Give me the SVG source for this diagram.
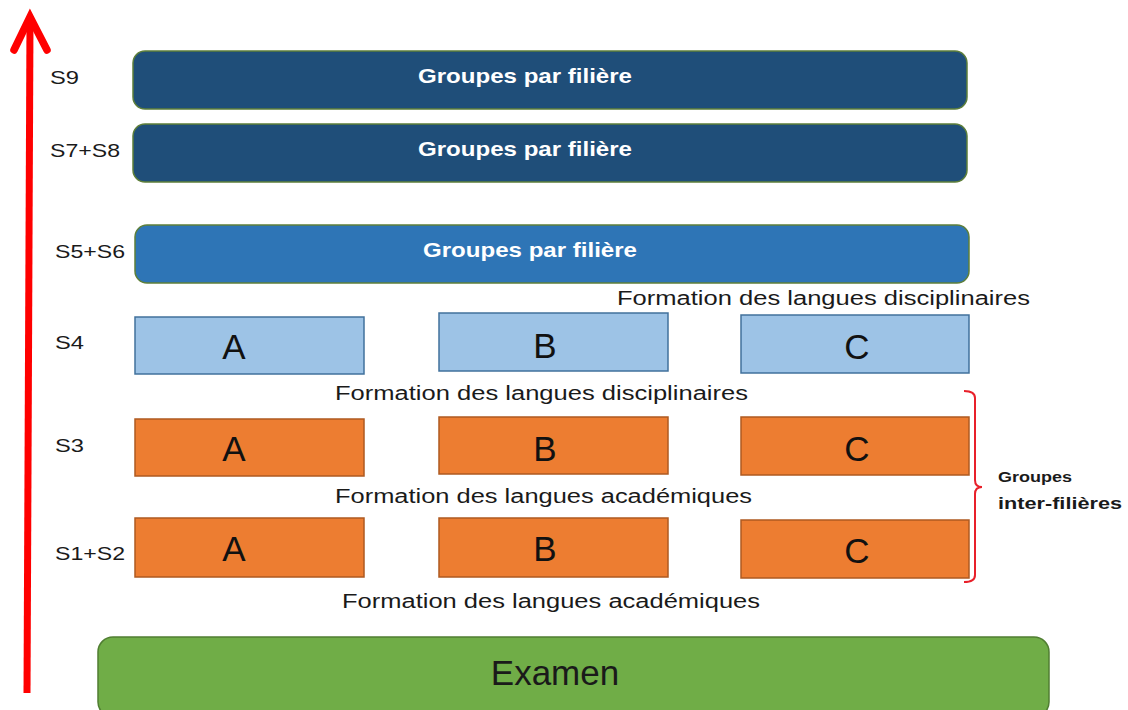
<svg xmlns="http://www.w3.org/2000/svg" width="1128" height="710" viewBox="0 0 1128 710">
<style>
.lbl{font-family:"Liberation Sans",Arial,sans-serif;font-size:19px;fill:#1a1a1a}
.grp{font-family:"Liberation Sans",Arial,sans-serif;font-size:21px;font-weight:bold;fill:#ffffff}
.dark{fill:#1F4E79;stroke:#5E7F3A;stroke-width:1.5}
.mid{fill:#2E75B6;stroke:#5E7F3A;stroke-width:1.5}
.lb{fill:#9DC3E6;stroke:#41719C;stroke-width:1.5}
.or{fill:#ED7D31;stroke:#AE5A21;stroke-width:1.5}
.let{font-family:"Liberation Sans",Arial,sans-serif;font-size:35px;fill:#111;text-anchor:middle}
.form{font-family:"Liberation Sans",Arial,sans-serif;font-size:20px;fill:#1a1a1a}
</style>
<g id="connectors">
<line x1="27" y1="693" x2="30" y2="20" stroke="#FF0000" stroke-width="7"/>
<polyline points="14,50 30,17 47,50" fill="none" stroke="#FF0000" stroke-width="7.5" stroke-linecap="round" stroke-linejoin="miter"/>
<path d="M964,391 Q975,391 975,398 L975,480 Q975,487 982,487 Q975,487 975,494 L975,575 Q975,582 964,582" fill="none" stroke="#E8202A" stroke-width="2"/>
</g>
<g id="labels">
<text class="lbl" x="50" y="84" textLength="29" lengthAdjust="spacingAndGlyphs">S9</text>
<text class="lbl" x="50" y="157" textLength="70" lengthAdjust="spacingAndGlyphs">S7+S8</text>
<text class="lbl" x="55" y="258" textLength="70" lengthAdjust="spacingAndGlyphs">S5+S6</text>
<text class="lbl" x="55" y="349" textLength="29" lengthAdjust="spacingAndGlyphs">S4</text>
<text class="lbl" x="55" y="452" textLength="29" lengthAdjust="spacingAndGlyphs">S3</text>
<text class="lbl" x="55" y="560" textLength="70" lengthAdjust="spacingAndGlyphs">S1+S2</text>
</g>
<g id="s9"><rect class="dark" x="133" y="51" width="834" height="58" rx="12"/><text class="grp" x="418" y="83" textLength="214" lengthAdjust="spacingAndGlyphs">Groupes par filière</text></g>
<g id="s78"><rect class="dark" x="133" y="124" width="834" height="58" rx="12"/><text class="grp" x="418" y="156" textLength="214" lengthAdjust="spacingAndGlyphs">Groupes par filière</text></g>
<g id="s56"><rect class="mid" x="135" y="225" width="834" height="58" rx="12"/><text class="grp" x="423" y="257" textLength="214" lengthAdjust="spacingAndGlyphs">Groupes par filière</text></g>
<text class="form" x="617" y="305" textLength="413" lengthAdjust="spacingAndGlyphs">Formation des langues disciplinaires</text>
<g id="s4a"><rect class="lb" x="135" y="317" width="229" height="57"/><text class="let" x="234" y="359">A</text></g>
<g id="s4b"><rect class="lb" x="439" y="313" width="229" height="58"/><text class="let" x="545" y="358">B</text></g>
<g id="s4c"><rect class="lb" x="741" y="315" width="228" height="58"/><text class="let" x="857" y="359">C</text></g>
<text class="form" x="335" y="400" textLength="413" lengthAdjust="spacingAndGlyphs">Formation des langues disciplinaires</text>
<g id="s3a"><rect class="or" x="135" y="419" width="229" height="57"/><text class="let" x="234" y="461">A</text></g>
<g id="s3b"><rect class="or" x="439" y="417" width="229" height="57"/><text class="let" x="545" y="461">B</text></g>
<g id="s3c"><rect class="or" x="741" y="417" width="228" height="58"/><text class="let" x="857" y="461">C</text></g>
<text class="form" x="335" y="503" textLength="417" lengthAdjust="spacingAndGlyphs">Formation des langues académiques</text>
<g id="s12a"><rect class="or" x="135" y="518" width="229" height="59"/><text class="let" x="234" y="561">A</text></g>
<g id="s12b"><rect class="or" x="439" y="518" width="229" height="59"/><text class="let" x="545" y="561">B</text></g>
<g id="s12c"><rect class="or" x="741" y="520" width="228" height="58"/><text class="let" x="857" y="563">C</text></g>
<text class="form" x="342" y="608" textLength="418" lengthAdjust="spacingAndGlyphs">Formation des langues académiques</text>
<g id="examen"><rect x="98" y="637" width="951" height="80" rx="15" fill="#70AD47" stroke="#507E32" stroke-width="1.5"/><text x="555" y="685" font-family="Liberation Sans,Arial,sans-serif" font-size="35" fill="#1a1a1a" text-anchor="middle">Examen</text></g>
<g id="intergroups"><text x="998" y="482" font-family="Liberation Sans,Arial,sans-serif" font-size="14" font-weight="bold" fill="#1a1a1a" textLength="74" lengthAdjust="spacingAndGlyphs">Groupes</text><text x="998" y="509" font-family="Liberation Sans,Arial,sans-serif" font-size="17" font-weight="bold" fill="#1a1a1a" textLength="124" lengthAdjust="spacingAndGlyphs">inter-filières</text></g>
</svg>
